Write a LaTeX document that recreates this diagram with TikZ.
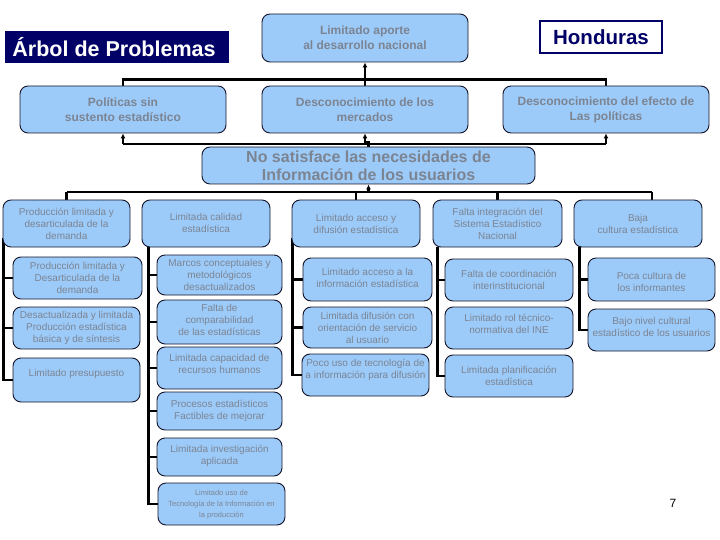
\documentclass[tikz,border=0pt]{standalone}
\usepackage{fontspec}
\setmainfont{Liberation Sans}
\usetikzlibrary{arrows.meta,backgrounds}
\definecolor{boxfill}{HTML}{9CCBFA}
\definecolor{boxline}{HTML}{14142A}
\definecolor{txtgray}{RGB}{124,132,146}
\definecolor{navy}{HTML}{000066}
\tikzset{
  box/.style={draw=boxline, line width=0.9pt, fill=boxfill, rounded corners=8pt, inner sep=0pt},
  txt/.style={text=txtgray, align=center, inner sep=0pt, font=\fontsize{10}{12}\selectfont},
  toptxt/.style={txt, font=\bfseries\fontsize{12}{15}\selectfont},
  conn/.style={draw=black, line width=2.6pt},
  up/.style={conn, -{Latex[length=5pt,width=5pt]}},
}
% \bx{name}{x1}{y1}{x2}{y2}{text shift up}{style}{text}
\newcommand\bx[8]{%
  \node[box, minimum width={(#4)-(#2)}, minimum height={(#5)-(#3)}] (#1) at ({((#2)+(#4))/2},{((#3)+(#5))/2}) {};
  \node[#7] (#1-t) at ([yshift=#6]#1.center) {#8};}
\begin{document}
\begin{tikzpicture}[x=1pt,y=-1pt]
\useasboundingbox (0,0) rectangle (720,540);
% title
\node[fill=navy, minimum width=224pt, minimum height=32pt, inner sep=0pt] (title) at (117,47) {};
\node[text=white, font=\bfseries\fontsize{21.5}{23}\selectfont] (title-t) at (114,47) {Árbol de Problemas};
\node[draw=navy, line width=1.5pt, fill=white, minimum width=122pt, minimum height=32pt, inner sep=0pt] (hond) at (601,37) {};
\node[text=navy, font=\bfseries\fontsize{20.5}{22}\selectfont] (hond-t) at (601,37) {Honduras};
% top
\bx{lap}{262}{14}{468}{62}{0pt}{toptxt}{Limitado aporte\\al desarrollo nacional}
\bx{pol}{20}{86}{226}{133}{0pt}{toptxt}{Políticas sin\\sustento estadístico}
\bx{dm}{262}{86}{468}{133}{0pt}{toptxt}{Desconocimiento de los\\mercados}
\bx{dep}{503}{86}{709}{133}{0pt}{toptxt}{Desconocimiento del efecto de\\Las políticas}
\bx{ns}{202}{147}{535}{184}{0pt}{txt, font=\bfseries\fontsize{16}{18}\selectfont}{No satisface las necesidades de\\Información de los usuarios}
% columns
\bx{c1}{3}{200}{130}{247}{0pt}{txt}{Producción limitada y\\desarticulada de la\\demanda}
\bx{c2}{142}{200}{270}{247}{1pt}{txt}{Limitada calidad\\estadística}
\bx{c3}{292}{200}{420}{247}{0pt}{txt}{Limitado acceso y\\difusión estadística}
\bx{c4}{433}{200}{562}{247}{0pt}{txt}{Falta integración del\\Sistema Estadístico\\Nacional}
\bx{c5}{574}{200}{702}{247}{0pt}{txt}{Baja\\cultura estadística}
% col 1
\bx{s11}{13}{257}{142}{299}{0pt}{txt}{Producción limitada y\\Desarticulada de la\\demanda}
\bx{s12}{13}{307}{140}{349}{0pt}{txt}{Desactualizada y limitada\\Producción estadística\\básica y de síntesis}
\bx{s13}{13}{358}{140}{402}{6pt}{txt}{Limitado presupuesto}
% col 2
\bx{s21}{157}{255}{282}{295}{0pt}{txt}{Marcos conceptuales y\\metodológicos\\desactualizados}
\bx{s22}{157}{300}{282}{344}{2pt}{txt}{Falta de\\comparabilidad\\de las estadísticas}
\bx{s23}{157}{347}{282}{389}{4pt}{txt}{Limitada capacidad de\\recursos humanos}
\bx{s24}{157}{392}{282}{430}{0pt}{txt}{Procesos estadísticos\\Factibles de mejorar}
\bx{s25}{157}{438}{282}{476}{1pt}{txt}{Limitada investigación\\aplicada}
\bx{s26}{158}{483}{285}{525}{-1pt}{txt, font=\fontsize{7.5}{11}\selectfont}{Limitado uso de\\Tecnología de la Información en\\la producción}
% col 3
\bx{s31}{303}{258}{432}{301}{2pt}{txt}{Limitado acceso a la\\información estadística}
\bx{s32}{303}{307}{432}{348}{0pt}{txt}{Limitada difusión con\\orientación de servicio\\al usuario}
\bx{s33}{302}{354}{429}{396}{5.5pt}{txt}{Poco uso de tecnología de\\a información para difusión}
% col 4
\bx{s41}{445}{259}{573}{301}{0pt}{txt}{Falta de coordinación\\interinstitucional}
\bx{s42}{445}{307}{573}{349}{4pt}{txt}{Limitado rol técnico-\\normativa del INE}
\bx{s43}{445}{355}{573}{397}{0pt}{txt}{Limitada planificación\\estadística}
% col 5
\bx{s51}{588}{258}{715}{301}{-2.5pt}{txt}{Poca cultura de\\los informantes}
\bx{s52}{588}{309}{715}{351}{3pt}{txt}{Bajo nivel cultural\\estadístico de los usuarios}
\node[font=\fontsize{12}{14}\selectfont] (pg) at (673,503) {7};
\begin{scope}[on background layer]
  % top connectors
  \draw[conn] (pol.north) -- ++(0,-6) -| (dep.north);
  \draw[up] (dm.north) -- (lap.south);
  \coordinate (h1) at (0,144);
  \draw[conn] (pol.south |- h1) -- (dep.south |- h1);
  \draw[up] (pol.south |- h1) -- (pol.south);
  \draw[up] (dm.south |- h1) -- (dm.south);
  \draw[up] (dep.south |- h1) -- (dep.south);
  \draw[conn] (ns.north) -- ++(0,-4) -| (dm.south |- h1);
  % ns to columns
  \coordinate (h2) at (0,192);
  \coordinate (c5d) at ([xshift=14pt]c5.north);
  \draw[conn] (c1.north |- h2) -- (c5d |- h2);
  \draw[conn] (c1.north |- h2) -- (c1.north);
  \draw[conn] (c3.north |- h2) -- (c3.north);
  \draw[conn] (c4.north |- h2) -- (c4.north);
  \draw[conn] (c5d |- h2) -- (c5d);
  \draw[up] (ns.south |- h2) -- (ns.south);
  % column trees
  \coordinate (v1) at ([xshift=1pt,yshift=9pt]c1.south west);
  \draw[conn] (v1) |- (s13.west);
  \draw[conn] (v1 |- s11.west) -- (s11.west);
  \draw[conn] (v1 |- s12.west) -- (s12.west);
  \coordinate (v2) at ([xshift=7pt]c2.south west);
  \draw[conn] (v2) |- (s26.west);
  \foreach \n in {s21,s22,s23,s24,s25} \draw[conn] (v2 |- \n.west) -- (\n.west);
  \coordinate (v3) at ([xshift=1pt,yshift=9pt]c3.south west);
  \draw[conn] (v3) |- (s33.west);
  \foreach \n in {s31,s32} \draw[conn] (v3 |- \n.west) -- (\n.west);
  \coordinate (v4) at ([xshift=5pt]c4.south west);
  \draw[conn] (v4) |- (s43.west);
  \draw[conn] (v4 |- s41.west) -- (s41.west);
  \coordinate (v5) at ([xshift=6pt]c5.south west);
  \draw[conn] (v5) |- (s52.west);
  \draw[conn] (v5 |- s51.west) -- (s51.west);
\end{scope}
\end{tikzpicture}
\end{document}
